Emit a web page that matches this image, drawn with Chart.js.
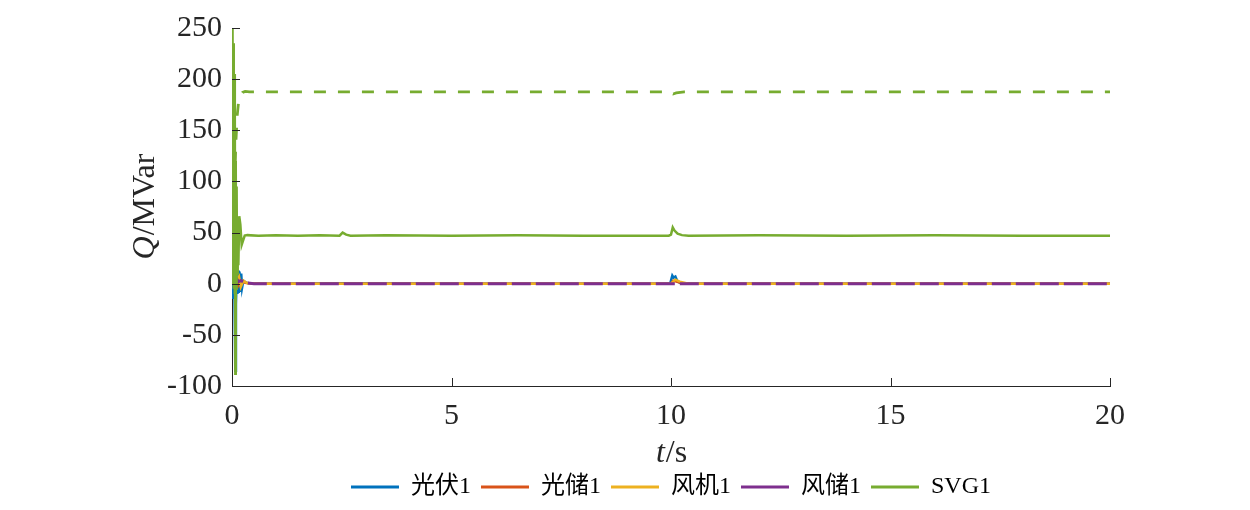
<!DOCTYPE html>
<html>
<head>
<meta charset="utf-8">
<script src="https://cdn.jsdelivr.net/npm/chart.js@4.4.1/dist/chart.umd.min.js"></script>
<style>
  html, body { margin: 0; padding: 0; background: #fff; }
  #wrap { width: 1250px; height: 510px; }
</style>
</head>
<body>
<div id="wrap"><canvas id="qChart"></canvas></div>
<script>
// tick labels
const xTicks = [0, 5, 10, 15, 20];
const yTicks = [-100, -50, 0, 50, 100, 150, 200, 250];

// series names
const names = ['光伏1', '光储1', '风机1', '风储1', 'SVG1'];

// 光伏1
const tPv = [0, 0.01, 0.03, 0.05, 0.075, 0.09, 0.11, 0.125, 0.14, 0.155, 0.17, 0.19, 0.21, 0.23, 0.26, 0.32, 0.45, 1, 2.5, 5, 9.98, 10.03, 10.06, 10.1, 10.15, 10.25, 12, 15, 20];
const qPv = [-10, 8, -15, 20, -85, -20, 12, -10, 13, -9, 12, -8, 10, -4, 3, 1, 0, 0, 0.5, 0, 0, 8, 6, 7, 2, 0, 0, 0, 0];

// 光储1
const tEs = [0, 0.03, 0.06, 0.1, 0.14, 0.2, 0.3, 0.5, 10, 10.05, 10.12, 10.3, 20];
const qEs = [0, 4, -3, 6, -2, 3, 1, 0, 0, 3, 2, 0, 0];

// 风机1
const tWt = [0, 0.02, 0.04, 0.06, 0.09, 0.12, 0.16, 0.2, 0.26, 0.35, 0.6, 10, 10.05, 10.1, 10.2, 10.4, 20];
const qWt = [0, 22, 15, 24, 8, 4, 7, -3, 3, 0.5, 0, 0, 2, 4, 2, 0, 0];

// 风储1
const tWs = [0, 0.03, 0.06, 0.1, 0.15, 0.2, 0.3, 0.5, 20];
const qWs = [0, 4, 2, 5, 2, 3, 1, 0, 0];

// SVG1
const tSvg = [0, 0.004, 0.012, 0.02, 0.028, 0.036, 0.044, 0.052, 0.06, 0.068, 0.076, 0.085, 0.095, 0.105, 0.115, 0.13, 0.145, 0.165, 0.19, 0.22, 0.25, 0.29, 0.35, 0.6, 1.0, 1.5, 2.0, 2.45, 2.52, 2.6, 2.7, 3.5, 5, 6.5, 8, 9.95, 10.0, 10.04, 10.08, 10.15, 10.25, 10.4, 12, 14, 16, 18, 20];
const qSvg = [0, 250, 60, 250, 20, 235, -5, 205, -10, 165, -88, 120, -5, 95, 10, 30, 18, 66, 58, 38, 42, 47, 47.5, 47, 47.5, 47, 47.5, 47, 50, 48, 47, 47.5, 47, 47.5, 47, 47, 48, 55, 52, 49, 47.5, 47, 47.5, 47, 47.5, 47, 47];

// SVG1 reference (dashed, not in legend)
const tSvgRef = [0, 0.03, 0.06, 0.09, 0.12, 0.15, 0.19, 0.24, 0.3, 0.4, 10, 10.05, 10.12, 10.3, 20];
const qSvgRef = [0, 50, 100, 140, 165, 178, 184, 187, 188, 187.5, 187.5, 185.5, 186.5, 187.5, 187.5];

const colors = ['#0072BD', '#D95319', '#EDB120', '#7E2F8E', '#77AC30'];
const axisColor = '#262626';
const serif = '"Liberation Serif", "Times New Roman", "Noto Sans CJK SC", serif';

function pts(ts, qs) {
    return ts.map((t, i) => ({ x: t, y: qs[i] }));
}

function series(label, ts, qs, color, order, extra) {
    return Object.assign({
        label: label,
        data: pts(ts, qs),
        borderColor: color,
        backgroundColor: color,
        borderWidth: 2.5,
        pointRadius: 0,
        tension: 0,
        order: order
    }, extra || {});
}

// inward tick marks like the original figure
const inwardTicks = {
    id: 'inwardTicks',
    afterDatasetsDraw(chart) {
        const { ctx, chartArea, scales: { x, y } } = chart;
        ctx.save();
        ctx.strokeStyle = axisColor;
        ctx.lineWidth = 1;
        ctx.beginPath();
        x.ticks.forEach(tk => {
            const px = Math.round(x.getPixelForValue(tk.value)) + 0.5;
            ctx.moveTo(px, chartArea.bottom);
            ctx.lineTo(px, chartArea.bottom - 8);
        });
        y.ticks.forEach(tk => {
            const py = Math.round(y.getPixelForValue(tk.value)) + 0.5;
            ctx.moveTo(chartArea.left, py);
            ctx.lineTo(chartArea.left + 8, py);
        });
        ctx.stroke();
        ctx.restore();
    }
};

// axis titles with an italic variable name: [italic part, upright part]
const yTitle = ['Q', '/MVar'];
const xTitle = ['t', '/s'];
const titleSize = 32;

function drawMixed(ctx, parts, cx, cy) {
    const it = 'italic ' + titleSize + 'px ' + serif;
    const up = titleSize + 'px ' + serif;
    ctx.font = it;
    const w1 = ctx.measureText(parts[0]).width;
    ctx.font = up;
    const w2 = ctx.measureText(parts[1]).width;
    let x0 = cx - (w1 + w2) / 2;
    ctx.textBaseline = 'middle';
    ctx.textAlign = 'left';
    ctx.font = it;
    ctx.fillText(parts[0], x0, cy);
    ctx.font = up;
    ctx.fillText(parts[1], x0 + w1 + 1, cy);
}

const axisTitles = {
    id: 'axisTitles',
    afterDraw(chart) {
        const { ctx, chartArea } = chart;
        ctx.save();
        ctx.fillStyle = axisColor;
        drawMixed(ctx, xTitle, (chartArea.left + chartArea.right) / 2, chartArea.bottom + 68);
        ctx.translate(146, (chartArea.top + chartArea.bottom) / 2);
        ctx.rotate(-Math.PI / 2);
        drawMixed(ctx, yTitle, 0, 0);
        ctx.restore();
    }
};

const ctx = document.getElementById('qChart').getContext('2d');
new Chart(ctx, {
    type: 'line',
    data: {
        datasets: [
            series(names[0], tPv, qPv, colors[0], 5),
            series(names[1], tEs, qEs, colors[1], 4),
            series(names[2], tWt, qWt, colors[2], 3),
            series(names[3], tWs, qWs, colors[3], 2, { borderWidth: 3, borderDash: [19, 5] }),
            series(names[4], tSvg, qSvg, colors[4], 1),
            series('SVG1参考', tSvgRef, qSvgRef, colors[4], 0, { borderWidth: 2.8, borderDash: [12, 12] })
        ]
    },
    options: {
        responsive: true,
        maintainAspectRatio: false,
        animation: false,
        layout: {
            padding: { left: 100, right: 140, top: 22, bottom: 1 }
        },
        plugins: {
            tooltip: { enabled: false },
            legend: {
                position: 'bottom',
                fullSize: false,
                labels: {
                    boxWidth: 48,
                    boxHeight: 3,
                    padding: 10,
                    color: axisColor,
                    font: { family: serif, size: 24 },
                    generateLabels(chart) {
                        return chart.data.datasets
                            .map((ds, i) => ({
                                text: ds.label,
                                fillStyle: ds.borderColor,
                                strokeStyle: ds.borderColor,
                                lineWidth: 0,
                                lineDash: [],
                                hidden: false,
                                datasetIndex: i
                            }))
                            .filter(it => it.datasetIndex < names.length);
                    }
                }
            }
        },
        scales: {
            x: {
                type: 'linear',
                min: xTicks[0],
                max: xTicks[xTicks.length - 1],
                afterBuildTicks(scale) {
                    scale.ticks = xTicks.map(v => ({ value: v }));
                },
                afterFit(scale) {
                    scale.height = 79;
                },
                grid: { display: false, drawTicks: false },
                border: { display: true, color: axisColor, width: 1 },
                ticks: {
                    color: axisColor,
                    padding: 12,
                    maxRotation: 0,
                    font: { family: serif, size: 30 }
                },
                title: { display: false }
            },
            y: {
                min: yTicks[0],
                max: yTicks[yTicks.length - 1],
                afterBuildTicks(scale) {
                    scale.ticks = yTicks.map(v => ({ value: v }));
                },
                afterFit(scale) {
                    scale.width = 132;
                },
                grid: { display: false, drawTicks: false },
                border: { display: true, color: axisColor, width: 1 },
                ticks: {
                    color: axisColor,
                    padding: 10,
                    font: { family: serif, size: 30 }
                },
                title: { display: false }
            }
        }
    },
    plugins: [inwardTicks, axisTitles]
});
</script>
</body>
</html>
